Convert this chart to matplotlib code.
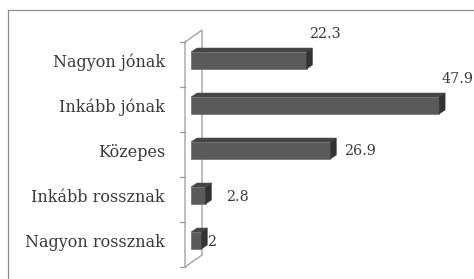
import matplotlib
matplotlib.use("Agg")
import matplotlib.pyplot as plt
from matplotlib.patches import Polygon
from matplotlib.lines import Line2D

categories = ["Nagyon jónak", "Inkább jónak", "Közepes", "Inkább rossznak", "Nagyon rossznak"]
values = [22.3, 47.9, 26.9, 2.8, 2.0]
value_labels = ["22.3", "47.9", "26.9", "2.8", "2"]

W, H, DPI = 474, 279, 100
fig = plt.figure(figsize=(W / DPI, H / DPI), dpi=DPI)
fig.patch.set_facecolor("white")

# layout in pixels (from top-left)
x0_px = 191          # value 0 on the front face
px_per_unit = 5.18
top_px, bot_px = 42, 267
xmax = 54
ax = fig.add_axes([x0_px / W, 1 - bot_px / H, xmax * px_per_unit / W, (bot_px - top_px) / H])
ax.set_xlim(0, xmax)
ax.set_ylim(len(categories) - 0.5, -0.5)
ax.axis("off")

ux = 1 / px_per_unit                      # data units per pixel (x)
uy = len(categories) / (bot_px - top_px)  # data units per pixel (y)

font = ["DejaVu Serif"]
tcol = "#3a3a3a"

# wall (slanted side panel)
wall_dx, wall_dy = 17, 12
fx = -6 * ux
wall = Polygon([(fx, -0.5), (fx + wall_dx * ux, -0.5 - wall_dy * uy),
                (fx + wall_dx * ux, len(categories) - 0.5 - wall_dy * uy),
                (fx, len(categories) - 0.5)],
               closed=True, facecolor="white", edgecolor="#9a9a9a", lw=0.9, clip_on=False, zorder=1)
ax.add_patch(wall)
for b in range(len(categories) + 1):
    yb = b - 0.5
    ax.add_line(Line2D([fx - 5 * ux, fx], [yb, yb], color="#9a9a9a", lw=0.9, clip_on=False, zorder=1))

# bars
depth_dx, depth_dy = 6 * ux, 4 * uy
top_off, bot_off = -0.278, 0.1
front_c, top_c, side_c = "#5a5a5a", "#454545", "#333333"
label_offsets = [(-3, 26), (-4, 26), (8, -1), (15, -2), (0, -2)]
for i, (cat, v, lab) in enumerate(zip(categories, values, value_labels)):
    yt, yb = i + top_off, i + bot_off
    front = Polygon([(0, yt), (v, yt), (v, yb), (0, yb)], closed=True,
                    facecolor=front_c, edgecolor="#6e6e6e", lw=0.5, clip_on=False, zorder=3)
    top = Polygon([(0, yt), (depth_dx, yt - depth_dy), (v + depth_dx, yt - depth_dy), (v, yt)],
                  closed=True, facecolor=top_c, edgecolor=top_c, lw=0.3, clip_on=False, zorder=3)
    side = Polygon([(v, yt), (v + depth_dx, yt - depth_dy), (v + depth_dx, yb - depth_dy), (v, yb)],
                   closed=True, facecolor=side_c, edgecolor=side_c, lw=0.3, clip_on=False, zorder=3)
    for p in (front, top, side):
        ax.add_patch(p)
    yc = (yt + yb) / 2
    ox, oy = label_offsets[i]
    ax.annotate(lab, xy=(v + depth_dx, yc), xytext=(ox * 72 / DPI, oy * 72 / DPI),
                textcoords="offset points", ha="left", va="center",
                fontsize=10.3, family=font, color=tcol, annotation_clip=False)
    ax.text(-26 * ux, yc + 2 * uy, cat, ha="right", va="center", fontsize=11.5,
            family=font, color=tcol, clip_on=False)

# outer border (top and left only visible)
fig.add_artist(Line2D([8 / W, 8 / W], [0, 1 - 10 / H], transform=fig.transFigure, color="#8c8c8c", lw=0.9))
fig.add_artist(Line2D([8 / W, 1], [1 - 10 / H, 1 - 10 / H], transform=fig.transFigure, color="#8c8c8c", lw=0.9))

fig.savefig("out.png", dpi=DPI, facecolor="white")
